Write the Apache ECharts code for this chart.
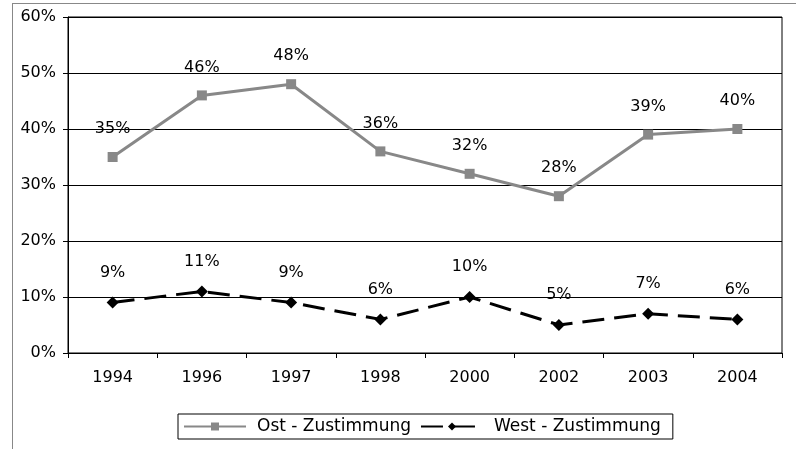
<!DOCTYPE html>
<html>
<head>
<meta charset="utf-8">
<script src="https://cdn.jsdelivr.net/npm/echarts@6/dist/echarts.min.js"></script>
<style>
  html, body { margin: 0; padding: 0; background: #fff; }
  #frame { position: absolute; left: 12px; top: 3px; width: 800px; height: 460px;
           border-top: 1px solid #888; border-left: 1px solid #888; }
  #chart { position: absolute; left: 0; top: 0; width: 796px; height: 449px; }
</style>
</head>
<body>
<div id="frame"></div>
<div id="chart"></div>
<script>
// chart data
const years = ['1994', '1996', '1997', '1998', '2000', '2002', '2003', '2004'];
const ostValues = [35, 46, 48, 36, 32, 28, 39, 40];
const westValues = [9, 11, 9, 6, 10, 5, 7, 6];

const font = "'DejaVu Sans', Verdana, sans-serif";
const fs = 16;

const chart = echarts.init(document.getElementById('chart'));

chart.setOption({
  animation: false,
  textStyle: { fontFamily: font },
  grid: {
    left: 68, top: 17, right: 14, bottom: 96,
    show: true, borderColor: '#000', borderWidth: 1
  },
  legend: {
    bottom: 10, left: 178,
    data: ['Ost - Zustimmung', 'West - Zustimmung'],
    itemWidth: 62, itemHeight: 10, itemGap: 9,
    padding: [4, 12, 4, 5],
    borderColor: '#000', borderWidth: 1,
    textStyle: { fontSize: 17, color: '#000', fontFamily: font, padding: [0, 0, 0, 6] }
  },
  xAxis: {
    type: 'category',
    data: years,
    boundaryGap: true,
    axisLine: { lineStyle: { color: '#000' } },
    axisTick: { show: true, length: 5, lineStyle: { color: '#000' } },
    axisLabel: { fontSize: fs, color: '#000', margin: 17, fontFamily: font }
  },
  yAxis: {
    type: 'value',
    min: 0, max: 60, interval: 10,
    axisLine: { show: true, lineStyle: { color: '#000' } },
    axisTick: { show: true, length: 5, lineStyle: { color: '#000' } },
    axisLabel: { fontSize: fs, color: '#000', margin: 12, fontFamily: font, formatter: '{value}%' },
    splitLine: { lineStyle: { color: '#000', width: 1 } }
  },
  series: [
    {
      name: 'Ost - Zustimmung',
      type: 'line',
      data: ostValues,
      symbol: 'rect',
      symbolSize: 10,
      itemStyle: { color: '#888' },
      lineStyle: { color: '#888', width: 3 },
      label: {
        show: true, position: 'top', distance: 15,
        fontSize: fs, color: '#000', fontFamily: font, formatter: '{c}%'
      }
    },
    {
      name: 'West - Zustimmung',
      type: 'line',
      data: westValues,
      symbol: 'diamond',
      symbolSize: 12,
      itemStyle: { color: '#000' },
      lineStyle: { color: '#000', width: 3, type: [22, 10] },
      label: {
        show: true, position: 'top', distance: 16,
        fontSize: fs, color: '#000', fontFamily: font, formatter: '{c}%'
      }
    }
  ]
});
</script>
</body>
</html>
